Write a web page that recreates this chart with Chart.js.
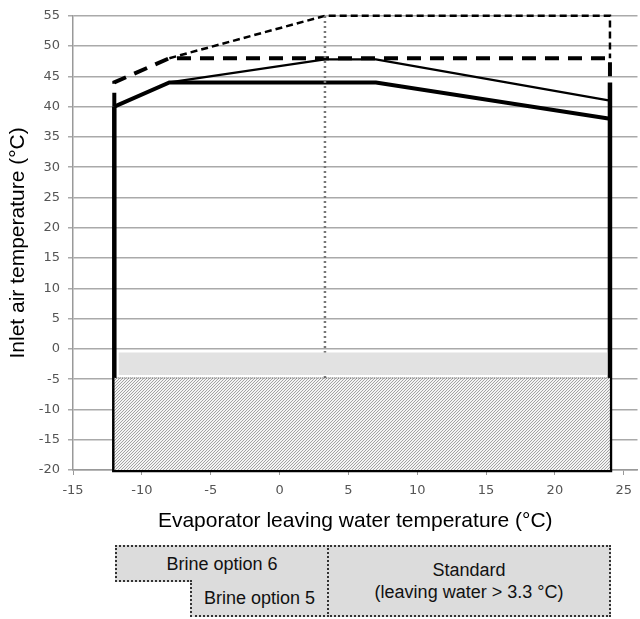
<!DOCTYPE html>
<html>
<head>
<meta charset="utf-8">
<script src="https://cdn.jsdelivr.net/npm/chart.js@4"></script>
<style>
  body { margin: 0; background: #fff; font-family: "Liberation Sans", Arial, sans-serif; }
  #wrap { position: absolute; left: 0; top: 0; width: 640px; height: 540px; }
  .box { position: absolute; background: #dcdcdc; border: 2px dotted #333; box-sizing: border-box;
         font-size: 18px; color: #111; display: flex; align-items: center; justify-content: center; text-align: center; line-height: 22px; }
</style>
</head>
<body>
<div id="wrap"><canvas id="envChart"></canvas></div>
<div class="box" style="left:115px; top:545px; width:214px; height:37px;">Brine option 6</div>
<div class="box" style="left:190px; top:580px; width:139px; height:37px; border-top:none;">Brine option 5</div>
<div class="box" style="left:327px; top:545px; width:284px; height:72px;">Standard<br>(leaving water &gt; 3.3 °C)</div>
<script>
// envelope outline (thick solid)
const envelopeX = [-12, -12, 24, 24];
const envelopeY = [40, -20, -20, 44];
const upperX = [-12, -8, 7, 24];
const upperY = [40, 44, 44, 38];
// thin solid limit
const thinX = [-8, 3.3, 7, 24];
const thinY = [44, 47.8, 47.8, 41];
// long dash limit
const dashLongX = [-12, -12, -8, 24, 24];
const dashLongY = [40, 44, 48, 48, 44];
// short dash limit
const dashShortX = [-8, 3.3, 24, 24];
const dashShortY = [48, 55, 55, 48];
// shaded zones
const bandX = [-11.7, 23.8];
const bandTop = -0.6, bandBottom = -4.3;
const hatchX = [-12, 24];
const hatchTop = -4.8;
// divider at 3.3 °C
const dividerX = [3.3, 3.3];
const dividerY = [-4.8, 55];

const pts = (xs, ys) => xs.map((x, i) => ({ x: x, y: ys[i] }));

function hatchPattern() {
  const c = document.createElement("canvas");
  c.width = 3; c.height = 3;
  const g = c.getContext("2d");
  g.fillStyle = "#f4f4f4";
  g.fillRect(0, 0, 3, 3);
  g.strokeStyle = "#9a9a9a";
  g.lineWidth = 0.9;
  g.beginPath();
  g.moveTo(0, 3); g.lineTo(3, 0);
  g.moveTo(-1, 1); g.lineTo(1, -1);
  g.moveTo(2, 4); g.lineTo(4, 2);
  g.stroke();
  return g.createPattern(c, "repeat");
}

const base = { pointRadius: 0, tension: 0, fill: false, clip: false, borderColor: "#000" };

new Chart(document.getElementById("envChart").getContext("2d"), {
  type: "line",
  data: {
    datasets: [
      { ...base, data: pts(hatchX, [hatchTop, hatchTop]), fill: { value: -20 }, backgroundColor: hatchPattern(),
        borderColor: "#444", borderWidth: 1, borderDash: [1, 1] },
      { ...base, data: pts(bandX, [bandTop, bandTop]), fill: { value: bandBottom }, backgroundColor: "#e2e2e2", borderWidth: 0 },
      { ...base, data: pts(dividerX, dividerY), borderColor: "#777", borderWidth: 2.5, borderDash: [2, 3] },
      { ...base, data: pts(dashShortX, dashShortY), borderWidth: 2.5, borderDash: [7, 4] },
      { ...base, data: pts(dashLongX, dashLongY), borderWidth: 4, borderDash: [14, 9] },
      { ...base, data: pts(thinX, thinY), borderWidth: 2.2 },
      { ...base, data: pts(upperX, upperY), borderWidth: 4 },
      { ...base, data: pts(envelopeX, envelopeY), borderWidth: 4.5 },
    ],
  },
  options: {
    responsive: true,
    maintainAspectRatio: false,
    animation: false,
    layout: { padding: { top: 15, right: 0, left: 0, bottom: 0 } },
    plugins: { legend: { display: false }, tooltip: { enabled: false } },
    scales: {
      x: {
        type: "linear", min: -15, max: 26,
        afterBuildTicks: (s) => { s.ticks = s.ticks.filter((t) => t.value % 5 === 0); },
        afterFit: (s) => { s.height = 70; },
        grid: { display: true, drawOnChartArea: false, drawTicks: true, tickLength: 5, color: "#999" },
        border: { display: true, color: "#999", width: 1.5 },
        ticks: { stepSize: 5, includeBounds: false, autoSkip: false, color: "#555", font: { family: "DejaVu Sans", size: 13 }, padding: 8, maxRotation: 0 },
        title: { display: true, text: "Evaporator leaving water temperature (°C)", color: "#000",
                 font: { family: "Liberation Sans", size: 21 }, padding: { top: 8, bottom: 6 } },
      },
      y: {
        min: -20, max: 55,
        afterFit: (s) => { s.width = 73; },
        grid: { color: "#aaa", lineWidth: 1.5, tickLength: 5 },
        border: { display: true, color: "#999", width: 1.5 },
        ticks: { stepSize: 5, color: "#555", font: { family: "DejaVu Sans", size: 13 }, padding: 8 },
        title: { display: true, text: "Inlet air temperature (°C)", color: "#000",
                 font: { family: "Liberation Sans", size: 21 }, padding: { top: 6, bottom: 4 } },
      },
    },
  },
});
</script>
</body>
</html>
